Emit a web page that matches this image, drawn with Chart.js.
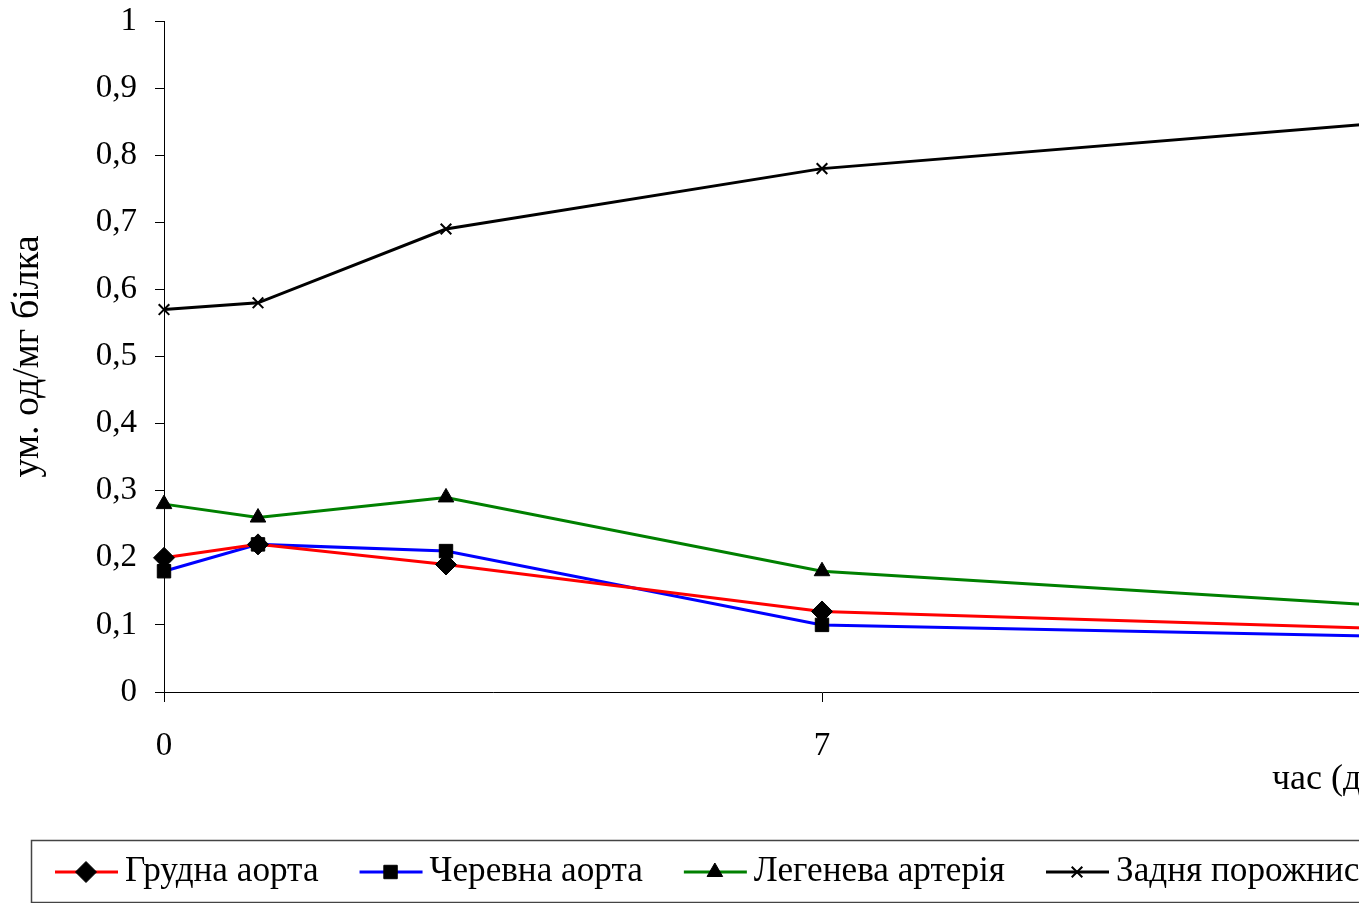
<!DOCTYPE html>
<html lang="uk">
<head>
    <meta charset="utf-8" />
    <title>ум. од/мг білка</title>
    <script src="https://cdn.jsdelivr.net/npm/chart.js@4.4.0/dist/chart.umd.min.js"></script>
    <style>
        html, body {
            margin: 0;
            padding: 0;
            overflow: hidden;
            background: #fff;
        }
        #wrap {
            width: 1520px;
            height: 903px;
        }
    </style>
</head>
<body>
    <div id="wrap"><canvas id="myChart" width="1520" height="903"></canvas></div>

    <script>
        // час (доба)
        var days = [0, 1, 3, 7, 14];
        // ум. од/мг білка
        var grudnaAorta = [0.20, 0.22, 0.19, 0.12, 0.09];
        var cherevnaAorta = [0.18, 0.22, 0.21, 0.10, 0.08];
        var legenevaArteriya = [0.28, 0.26, 0.29, 0.18, 0.12];
        var porozhnystaVena = [0.57, 0.58, 0.69, 0.78, 0.86];
        var seriesNames = ["Грудна аорта", "Черевна аорта", "Легенева артерія", "Задня порожниста вена"];
        var xTicks = [0, 7, 14];
        var yTicks = [0, 0.1, 0.2, 0.3, 0.4, 0.5, 0.6, 0.7, 0.8, 0.9, 1];

        var FONT = "'Liberation Serif', 'Times New Roman', serif";

        var toPoints = function (values) {
            return days.map(function (d, i) { return { x: d, y: values[i] }; });
        };

        var makeSet = function (name, values, color, style, radius, bw) {
            return {
                label: name,
                data: toPoints(values),
                borderColor: color,
                backgroundColor: color,
                borderWidth: 3,
                tension: 0,
                clip: false,
                pointStyle: style,
                pointRadius: radius,
                pointHoverRadius: radius,
                pointBackgroundColor: '#000',
                pointBorderColor: '#000',
                pointBorderWidth: bw
            };
        };

        // legend in a box under the plot, line + marker like the original
        var boxLegend = {
            id: 'boxLegend',
            afterDraw: function (chart) {
                var ctx = chart.ctx;
                ctx.save();
                ctx.strokeStyle = '#444';
                ctx.lineWidth = 1.5;
                ctx.strokeRect(31.5, 840.5, 1475, 62);

                ctx.font = "35.2px " + FONT;
                ctx.textBaseline = 'middle';
                var x = 55, y = 872;
                chart.data.datasets.forEach(function (ds) {
                    ctx.strokeStyle = ds.borderColor;
                    ctx.lineWidth = 3;
                    ctx.beginPath();
                    ctx.moveTo(x, y);
                    ctx.lineTo(x + 63, y);
                    ctx.stroke();
                    ctx.fillStyle = '#000';
                    ctx.strokeStyle = '#000';
                    ctx.lineWidth = ds.pointBorderWidth;
                    Chart.helpers.drawPoint(ctx, {
                        pointStyle: ds.pointStyle,
                        radius: ds.pointRadius,
                        borderWidth: ds.pointBorderWidth,
                        rotation: 0
                    }, x + 31, y);
                    ctx.fillStyle = '#000';
                    ctx.fillText(ds.label, x + 70, y);
                    x = x + 70 + ctx.measureText(ds.label).width + 41;
                });

                // x axis title, placed as in the original
                ctx.font = "36px " + FONT;
                ctx.fillText("час (доба)", 1272, 780);
                ctx.restore();
            }
        };

        var ctx = document.getElementById("myChart");
        var myChart = new Chart(ctx, {
            type: 'line',
            data: {
                datasets: [
                    makeSet(seriesNames[0], grudnaAorta, '#ff0000', 'rectRot', 10.5, 1),
                    makeSet(seriesNames[1], cherevnaAorta, '#0000ff', 'rect', 9.5, 1),
                    makeSet(seriesNames[2], legenevaArteriya, '#008000', 'triangle', 9, 1),
                    makeSet(seriesNames[3], porozhnystaVena, '#000000', 'crossRot', 7.5, 2)
                ]
            },
            plugins: [boxLegend],
            options: {
                responsive: false,
                animation: false,
                events: [],
                layout: {
                    padding: { left: 0, top: 21, right: 40, bottom: 0 }
                },
                plugins: {
                    legend: { display: false },
                    tooltip: { enabled: false }
                },
                scales: {
                    x: {
                        type: 'linear',
                        min: 0,
                        max: 14,
                        afterBuildTicks: function (scale) {
                            scale.ticks = xTicks.map(function (v) { return { value: v }; });
                        },
                        afterFit: function (scale) {
                            scale.height = 211;
                            scale.paddingLeft = 0;
                            scale.paddingRight = 0;
                        },
                        ticks: {
                            color: '#000',
                            font: { family: FONT, size: 33 },
                            padding: 25,
                            maxRotation: 0,
                            callback: function (v) { return String(v); }
                        },
                        grid: {
                            drawOnChartArea: false,
                            color: '#000',
                            tickLength: 10
                        },
                        border: { color: '#000', width: 1 }
                    },
                    y: {
                        min: 0,
                        max: 1,
                        afterBuildTicks: function (scale) {
                            scale.ticks = yTicks.map(function (v) { return { value: v }; });
                        },
                        afterFit: function (scale) {
                            scale.width = 164;
                            scale.paddingTop = 0;
                            scale.paddingBottom = 0;
                        },
                        ticks: {
                            color: '#000',
                            font: { family: FONT, size: 33 },
                            padding: 18,
                            callback: function (v) {
                                return String(Math.round(v * 10) / 10).replace('.', ',');
                            }
                        },
                        grid: {
                            drawOnChartArea: false,
                            color: '#000',
                            tickLength: 9
                        },
                        border: { color: '#000', width: 1 },
                        title: {
                            display: true,
                            text: 'ум. од/мг білка',
                            color: '#000',
                            font: { family: FONT, size: 38 },
                            padding: { top: 5, bottom: 0 }
                        }
                    }
                }
            }
        });
    </script>
</body>
</html>
